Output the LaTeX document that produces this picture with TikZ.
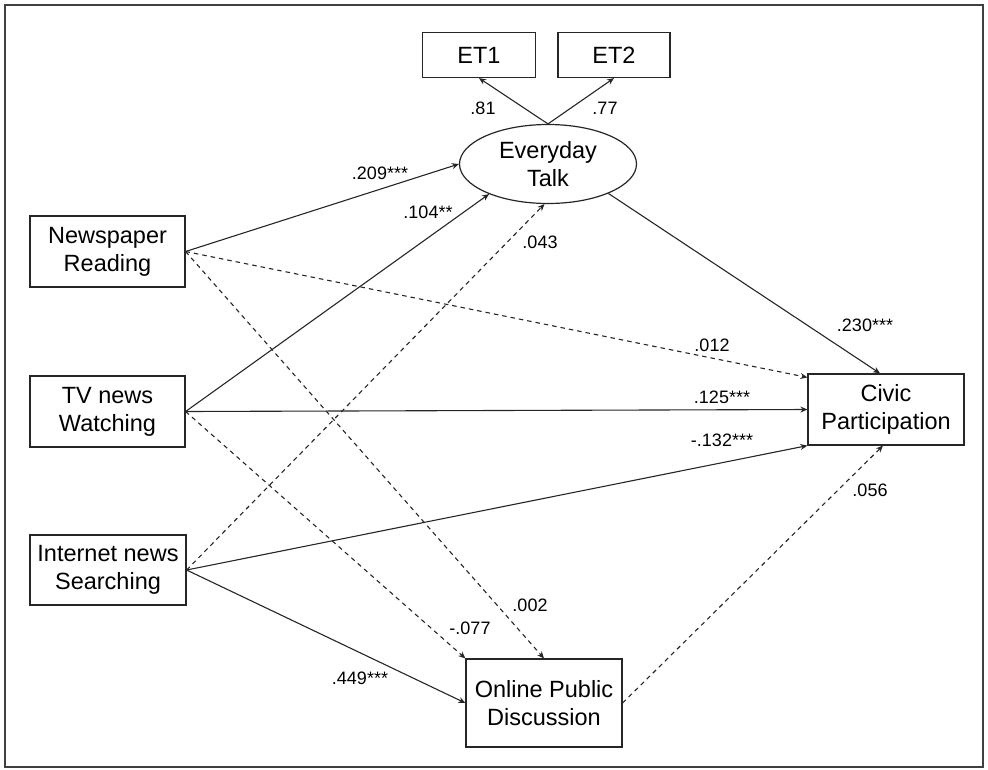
\documentclass[tikz,border=0pt]{standalone}
\usepackage{fontspec}
\setmainfont{Liberation Sans}
\usetikzlibrary{arrows.meta,calc,shapes.geometric}
\tikzset{
  box/.style={draw=black!85, line width=1.2pt, inner sep=0pt, align=center,
    font=\fontsize{23.5}{28}\selectfont},
  lat/.style={ellipse, draw=black!85, line width=1.2pt, inner sep=0pt, align=center,
    font=\fontsize{23.5}{28}\selectfont},
  path/.style={draw=black!85, line width=1.1pt, -{Stealth[length=7pt,width=6pt]}},
  ns/.style={path, dash pattern=on 4.5pt off 4pt},
  coef/.style={inner sep=0pt, font=\fontsize{18}{21}\selectfont}
}
\begin{document}
\begin{tikzpicture}[x=1pt,y=-1pt]
\useasboundingbox (0,0) rectangle (988,769);
\draw[line width=2pt, black!75] (5,5) rectangle (983,767);

% nodes
\node[box, minimum width=113pt, minimum height=45pt] (ET1) at (479,55) {ET1};
\node[box, minimum width=112pt, minimum height=45pt] (ET2) at (614,55) {ET2};
\node[lat, minimum width=177pt, minimum height=79pt] (ET) at (548,164) {Everyday\\Talk};
\node[box, minimum width=155pt, minimum height=71pt] (NR) at (107.5,251.5) {Newspaper\\Reading};
\node[box, minimum width=155pt, minimum height=71pt] (TV) at (107.5,411.5) {TV news\\Watching};
\node[box, minimum width=156pt, minimum height=70pt] (IN) at (108,570) {Internet news\\Searching};
\node[box, minimum width=156pt, minimum height=71pt] (CP) at (886,409.5) {Civic\\Participation};
\node[box, minimum width=156pt, minimum height=88pt] (OPD) at (544,703) {Online Public\\Discussion};

% measurement paths
\draw[path] (ET.north) -- (ET1.south);
\draw[path] (ET.north) -- (ET2.south);

% structural paths
\draw[path] (NR.east) -- (ET.west);
\draw[path] (TV.east) -- (ET.207);
\draw[ns] (IN.east) -- (ET.265);
\draw[ns] (NR.east) -- ($(CP.north west)+(0,4)$);
\draw[path] (TV.east) -- (CP.west);
\draw[path] (IN.east) -- (CP.south west);
\draw[path] (IN.east) -- (OPD.west);
\draw[ns] (NR.east) -- (OPD.north);
\draw[ns] (TV.east) -- (OPD.north west);
\draw[ns] (OPD.east) -- ($(CP.south)+(-3,0)$);
\draw[path] (ET.334) -- ($(CP.north)+(-6,0)$);

% coefficients
\node[coef] (c81) at (483,108) {.81};
\node[coef] (c77) at (605,108) {.77};
\node[coef] (c209) at (380,173) {.209***};
\node[coef] (c104) at (428,212) {.104**};
\node[coef] (c043) at (540,242) {.043};
\node[coef] (c012) at (712,345) {.012};
\node[coef] (c125) at (722,397) {.125***};
\node[coef] (c132) at (722,440) {-.132***};
\node[coef] (c230) at (865,325) {.230***};
\node[coef] (c056) at (870,490) {.056};
\node[coef] (c002) at (530,605) {.002};
\node[coef] (c077) at (470,628) {-.077};
\node[coef] (c449) at (360,678) {.449***};
\end{tikzpicture}
\end{document}
